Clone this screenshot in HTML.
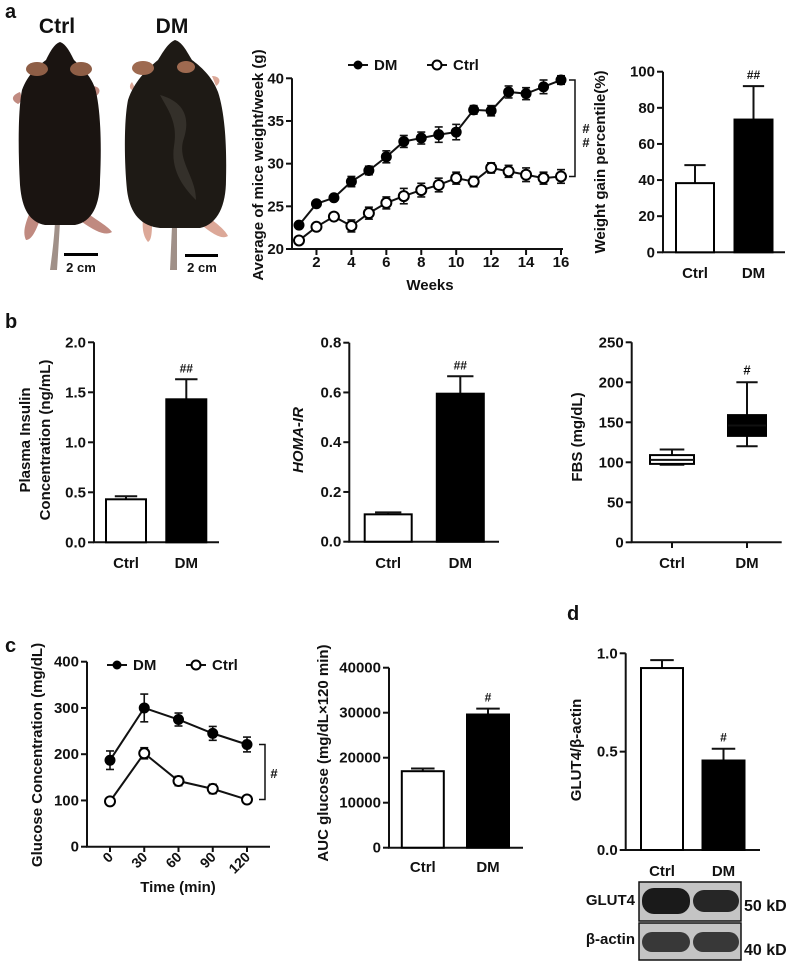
<!DOCTYPE html>
<html><head><meta charset="utf-8"><style>
html,body{margin:0;padding:0;background:#fff}
svg{display:block}
text{font-family:"Liberation Sans",Arial,sans-serif;font-weight:bold;fill:#111}
</style></head><body>
<svg id="fig" width="797" height="962" viewBox="0 0 797 962" xmlns="http://www.w3.org/2000/svg">
<g>
<text x="5" y="18" font-size="20">a</text>
<text x="57" y="33" font-size="21" text-anchor="middle">Ctrl</text>
<text x="172" y="33" font-size="21" text-anchor="middle">DM</text>
<g>
<path d="M55,222 C54,240 52,255 50,270 L57,270 C58,255 59,240 60,222 Z" fill="#a09088"/>
<path d="M30,212 C26,222 22,232 26,240 C32,240 36,230 40,220 Z M86,212 C96,220 108,226 112,232 C106,236 96,232 82,222 Z M20,92 C12,95 10,100 18,104 C22,102 22,96 20,92 Z M92,86 C100,86 102,92 96,96 Z" fill="#c08a80"/>
<path d="M60,42 C54,44 50,52 46,60 C38,66 28,74 22,90 C18,110 18,150 20,185 C22,210 30,222 45,225 L75,225 C92,222 100,205 100,180 C102,140 100,105 95,88 C90,74 80,66 74,60 C70,52 66,44 60,42 Z" fill="#1a1411"/>
<ellipse cx="37" cy="69" rx="11" ry="7" fill="#8e5e46"/><ellipse cx="81" cy="69" rx="11" ry="7" fill="#8e5e46"/>
</g>
<g>
<path d="M172,226 L170,270 L177,270 L177,226 Z" fill="#a09088"/>
<path d="M143,218 C142,228 143,236 148,242 C152,240 152,230 152,222 Z M205,214 C214,222 224,228 228,236 C222,240 212,234 198,222 Z M132,82 C128,86 130,92 136,90 Z M212,76 C220,76 222,82 216,86 Z" fill="#dca898"/>
<path d="M175,40 C168,43 163,52 158,60 C146,70 134,82 128,100 C124,120 124,160 127,190 C130,215 142,226 160,228 L200,228 C218,224 226,205 226,180 C227,140 224,110 218,92 C212,76 200,66 192,60 C186,50 182,42 175,40 Z" fill="#1e1a15"/>
<path d="M160,95 C178,100 192,112 184,138 C176,160 196,176 196,200 C186,190 170,172 174,146 C178,122 168,110 160,95 Z" fill="#3c3832" opacity="0.75"/>
<ellipse cx="143" cy="68" rx="11" ry="7" fill="#9e6a50"/><ellipse cx="186" cy="67" rx="9" ry="6" fill="#9e6a50"/>
</g>
<rect x="64" y="253" width="34" height="3" fill="#000"/>
<rect x="185" y="254" width="33" height="3" fill="#000"/>
<text x="81" y="272" font-size="13" text-anchor="middle">2 cm</text>
<text x="202" y="272" font-size="13" text-anchor="middle">2 cm</text>
</g>
<text x="5" y="328" font-size="20">b</text>
<text x="5" y="652" font-size="20">c</text>
<text x="567" y="620" font-size="20">d</text>
</svg>
<script>
// ---- Panel a: weight line chart ----
const weeks=[1,2,3,4,5,6,7,8,9,10,11,12,13,14,15,16];
const dmWeight=[22.8,25.3,26,27.9,29.2,30.8,32.6,33,33.4,33.7,36.3,36.2,38.4,38.2,39,39.8];
const dmWeightErr=[0.2,0.2,0.2,0.6,0.5,0.7,0.7,0.7,0.9,0.9,0.5,0.6,0.7,0.7,0.8,0.5];
const ctrlWeight=[21,22.6,23.8,22.7,24.2,25.4,26.2,26.9,27.5,28.3,27.9,29.5,29.1,28.7,28.3,28.5];
const ctrlWeightErr=[0.2,0.2,0.2,0.7,0.7,0.7,0.9,0.8,0.8,0.7,0.6,0.6,0.7,0.8,0.7,0.8];
const weightTicks=[20,25,30,35,40];
const weekTicks=[2,4,6,8,10,12,14,16];
// ---- Panel a: weight gain bars ----
const groups=["Ctrl","DM"];
const gainValues=[38.3,73.5];
const gainErr=[10,18.5];
const gainTicks=[0,20,40,60,80,100];
// ---- Panel b ----
const insulinValues=[0.43,1.43];
const insulinErr=[0.03,0.2];
const insulinTicks=[0,0.5,1.0,1.5,2.0];
const homaValues=[0.11,0.595];
const homaErr=[0.008,0.07];
const homaTicks=[0,0.2,0.4,0.6,0.8];
const fbsMin=[97,120];
const fbsQ1=[98,133];
const fbsMedian=[103,146];
const fbsQ3=[109,159];
const fbsMax=[116,200];
const fbsTicks=[0,50,100,150,200,250];
// ---- Panel c ----
const times=[0,30,60,90,120];
const dmGlucose=[187,300,275,245,221];
const dmGlucoseErr=[20,30,14,15,16];
const ctrlGlucose=[98,202,142,125,102];
const ctrlGlucoseErr=[5,12,10,10,8];
const glucoseTicks=[0,100,200,300,400];
const aucValues=[17000,29600];
const aucErr=[600,1300];
const aucTicks=[0,10000,20000,30000,40000];
// ---- Panel d ----
const glutValues=[0.925,0.455];
const glutErr=[0.04,0.06];
const glutTicks=[0.0,0.5,1.0];

const NS="http://www.w3.org/2000/svg";
const svg=document.getElementById('fig');
function mk(tag,attrs,parent,txt){const e=document.createElementNS(NS,tag);for(const k in attrs)e.setAttribute(k,attrs[k]);if(txt!==undefined)e.textContent=txt;(parent||svg).appendChild(e);return e;}
function lin(d0,d1,r0,r1){return v=>r0+(v-d0)*(r1-r0)/(d1-d0);}
function line(g,x1,y1,x2,y2,w){return mk('line',{x1:x1,y1:y1,x2:x2,y2:y2,stroke:'#111','stroke-width':w||2},g);}

function yAxis(g,x,y,ticks,fmt,xEnd,y0px){
  const a=line(g,x,y(ticks[ticks.length-1]),x,y0px);
  
  const b=line(g,x-1,y0px,xEnd,y0px);
  
  ticks.forEach(t=>{line(g,x-6,y(t),x,y(t));
    const tl=mk('text',{x:x-8,y:y(t)+5,'font-size':15,'text-anchor':'end'},g,fmt(t));
    });
}
function yTitle(g,x,cy,lines,italic){
  lines.forEach((s,i)=>{const t=mk('text',{x:0,y:0,'font-size':15,'text-anchor':'middle',transform:`translate(${x+i*20},${cy}) rotate(-90)`},g,s);
    if(italic)t.setAttribute('font-style','italic');
    });
}
function bars(g,y,vals,errs,xs,w,labelY,sig){
  vals.forEach((v,i)=>{
    const top=y(v),bottom=y(0);
    line(g,xs[i],y(v+errs[i]),xs[i],top,2);
    line(g,xs[i]-w*0.28,y(v+errs[i]),xs[i]+w*0.28,y(v+errs[i]),2);
    const r=mk('rect',{x:xs[i]-w/2,y:top,width:w,height:bottom-top,fill:i?'#000':'#fff',stroke:'#000','stroke-width':2},g);
    
    const l=mk('text',{x:xs[i],y:labelY,'font-size':15,'text-anchor':'middle'},g,groups[i]);
    
  });
  if(sig){const s=mk('text',{x:xs[1],y:y(vals[1]+errs[1])-7,'font-size':12,'text-anchor':'middle'},g,sig);
    }
}
function markers(g,x,y,xsData,vals,errs,filled,name){
  let d='';xsData.forEach((t,i)=>{d+=(i?'L':'M')+x(t)+','+y(vals[i]);});
  const p=mk('path',{d:d,fill:'none',stroke:'#111','stroke-width':2},g);
  
  xsData.forEach((t,i)=>{
    const cx=x(t);
    line(g,cx,y(vals[i]+errs[i]),cx,y(vals[i]-errs[i]),1.6);
    line(g,cx-4,y(vals[i]+errs[i]),cx+4,y(vals[i]+errs[i]),1.6);
    line(g,cx-4,y(vals[i]-errs[i]),cx+4,y(vals[i]-errs[i]),1.6);
    const c=mk('circle',{cx:cx,cy:y(vals[i]),r:filled?4.5:5,fill:filled?'#000':'#fff',stroke:'#000','stroke-width':2},g);
    
  });
}
function legend(g,x,y){
  line(g,x-10,y,x+10,y);mk('circle',{cx:x,cy:y,r:4.5,fill:'#000'},g);
  mk('text',{x:x+16,y:y+5,'font-size':15},g,'DM');
  line(g,x+69,y,x+89,y);mk('circle',{cx:x+79,cy:y,r:4.5,fill:'#fff',stroke:'#000','stroke-width':2},g);
  mk('text',{x:x+95,y:y+5,'font-size':15},g,'Ctrl');
}

// Panel a line
{const g=mk('g',{});
 const x=lin(1,16,299,561),y=lin(20,40,249,78.3);
 yAxis(g,292,y,weightTicks,t=>t,563,249);
 weekTicks.forEach(t=>{line(g,x(t),249,x(t),255);const l=mk('text',{x:x(t),y:267,'font-size':15,'text-anchor':'middle'},g,t);});
 const xt=mk('text',{x:430,y:290,'font-size':15,'text-anchor':'middle'},g,'Weeks');
 yTitle(g,263,165,['Average of mice weight/week (g)']);
 markers(g,x,y,weeks,ctrlWeight,ctrlWeightErr,false,'ctrl');
 markers(g,x,y,weeks,dmWeight,dmWeightErr,true,'dm');
 legend(g,358,65);
 const bx=575,b1=y(dmWeight[15]),b2=y(ctrlWeight[15]);
 const br=mk('path',{d:`M${bx-6},${b1}H${bx}V${b2}H${bx-6}`,fill:'none',stroke:'#111','stroke-width':1.5},g);
 mk('text',{x:586,y:133,'font-size':13,'text-anchor':'middle'},g,'#');mk('text',{x:586,y:147,'font-size':13,'text-anchor':'middle'},g,'#');
}
// Panel a bar
{const g=mk('g',{});
 const y=lin(0,100,252.3,71.7);yAxis(g,663,y,gainTicks,t=>t,785,252.3);
 bars(g,y,gainValues,gainErr,[695,753.5],38,278,'##');yTitle(g,605,162,['Weight gain percentile(%)']);}
// Panel b insulin
{const g=mk('g',{});
 const y=lin(0,2,542.3,342.3);yAxis(g,94,y,insulinTicks,t=>t.toFixed(1),219,542.3);
 bars(g,y,insulinValues,insulinErr,[126,186.3],40,568,'##');yTitle(g,30,440,['Plasma Insulin','Concentration (ng/mL)']);}
// Panel b HOMA
{const g=mk('g',{});
 const y=lin(0,0.8,541.7,342.7);yAxis(g,349.3,y,homaTicks,t=>t.toFixed(1),499,541.7);
 bars(g,y,homaValues,homaErr,[388.2,460.3],47,568,'##');yTitle(g,303,440,['HOMA-IR'],true);}
// Panel b FBS box
{const g=mk('g',{});
 const y=lin(0,250,542.3,342.3);yAxis(g,631.7,y,fbsTicks,t=>t,781.7,542.3);
 const xs=[672,747],w=[44,38];
 groups.forEach((gname,i)=>{
  line(g,xs[i],542.3,xs[i],548);
  line(g,xs[i],y(fbsMax[i]),xs[i],y(fbsMin[i]),2);
  line(g,xs[i]-w[i]*0.28,y(fbsMax[i]),xs[i]+w[i]*0.28,y(fbsMax[i]),2);
  line(g,xs[i]-w[i]*0.28,y(fbsMin[i]),xs[i]+w[i]*0.28,y(fbsMin[i]),2);
  const r=mk('rect',{x:xs[i]-w[i]/2,y:y(fbsQ3[i]),width:w[i],height:y(fbsQ1[i])-y(fbsQ3[i]),fill:i?'#000':'#fff',stroke:'#000','stroke-width':2},g);
  
  line(g,xs[i]-w[i]/2,y(fbsMedian[i]),xs[i]+w[i]/2,y(fbsMedian[i]),2);
  const l=mk('text',{x:xs[i],y:568,'font-size':15,'text-anchor':'middle'},g,gname);
 });
 mk('text',{x:xs[1],y:y(fbsMax[1])-8,'font-size':13,'text-anchor':'middle'},g,'#');
 yTitle(g,582,437,['FBS (mg/dL)']);}
// Panel c glucose line
{const g=mk('g',{});
 const x=lin(0,120,110,247),y=lin(0,400,846.7,661.7);
 yAxis(g,87,y,glucoseTicks,t=>t,270,846.7);
 times.forEach(t=>{line(g,x(t),846.7,x(t),852);const l=mk('text',{x:0,y:0,'font-size':14,'text-anchor':'end',transform:`translate(${x(t)+4},${858}) rotate(-45)`},g,t);});
 const xt=mk('text',{x:178,y:892,'font-size':15,'text-anchor':'middle'},g,'Time (min)');
 yTitle(g,42,755,['Glucose Concentration (mg/dL)']);
 markers(g,x,y,times,ctrlGlucose,ctrlGlucoseErr,false,'ctrl');
 markers(g,x,y,times,dmGlucose,dmGlucoseErr,true,'dm');
 legend(g,117,665);
 const bx=265,b1=y(dmGlucose[4]),b2=y(ctrlGlucose[4]);
 const br=mk('path',{d:`M${bx-6},${b1}H${bx}V${b2}H${bx-6}`,fill:'none',stroke:'#111','stroke-width':1.5},g);
 mk('text',{x:274,y:778,'font-size':13,'text-anchor':'middle'},g,'#');
}
// Panel c AUC
{const g=mk('g',{});
 const y=lin(0,40000,847.7,667.7);yAxis(g,389,y,aucTicks,t=>t,523,847.7);
 bars(g,y,aucValues,aucErr,[422.8,488],42,872,'#');yTitle(g,328,753,['AUC glucose (mg/dL×120 min)']);}
// Panel d
{const g=mk('g',{});
 const y=lin(0,1,850,653.3);yAxis(g,625.7,y,glutTicks,t=>t.toFixed(1),760,850);
 bars(g,y,glutValues,glutErr,[662,723.5],42,876,'#');yTitle(g,581,750,['GLUT4/β-actin']);
 const wb=mk('g',{},g);
 mk('rect',{x:639,y:882,width:102,height:39,fill:'#c4c4c4',stroke:'#111','stroke-width':1.5},wb);
 mk('rect',{x:642,y:888,width:48,height:26,rx:12,fill:'#1a1a1a'},wb);mk('rect',{x:693,y:890,width:46,height:22,rx:11,fill:'#262626'},wb);
 mk('rect',{x:639,y:923,width:102,height:37,fill:'#c4c4c4',stroke:'#111','stroke-width':1.5},wb);
 mk('rect',{x:642,y:932,width:48,height:20,rx:10,fill:'#383838'},wb);mk('rect',{x:693,y:932,width:46,height:20,rx:10,fill:'#383838'},wb);
 mk('text',{x:635,y:905,'font-size':15,'text-anchor':'end'},wb,'GLUT4');
 mk('text',{x:635,y:944,'font-size':15,'text-anchor':'end'},wb,'β-actin');
 mk('text',{x:744,y:911,'font-size':16},wb,'50 kD');
 mk('text',{x:744,y:955,'font-size':16},wb,'40 kD');
}
</script>
</body></html>
